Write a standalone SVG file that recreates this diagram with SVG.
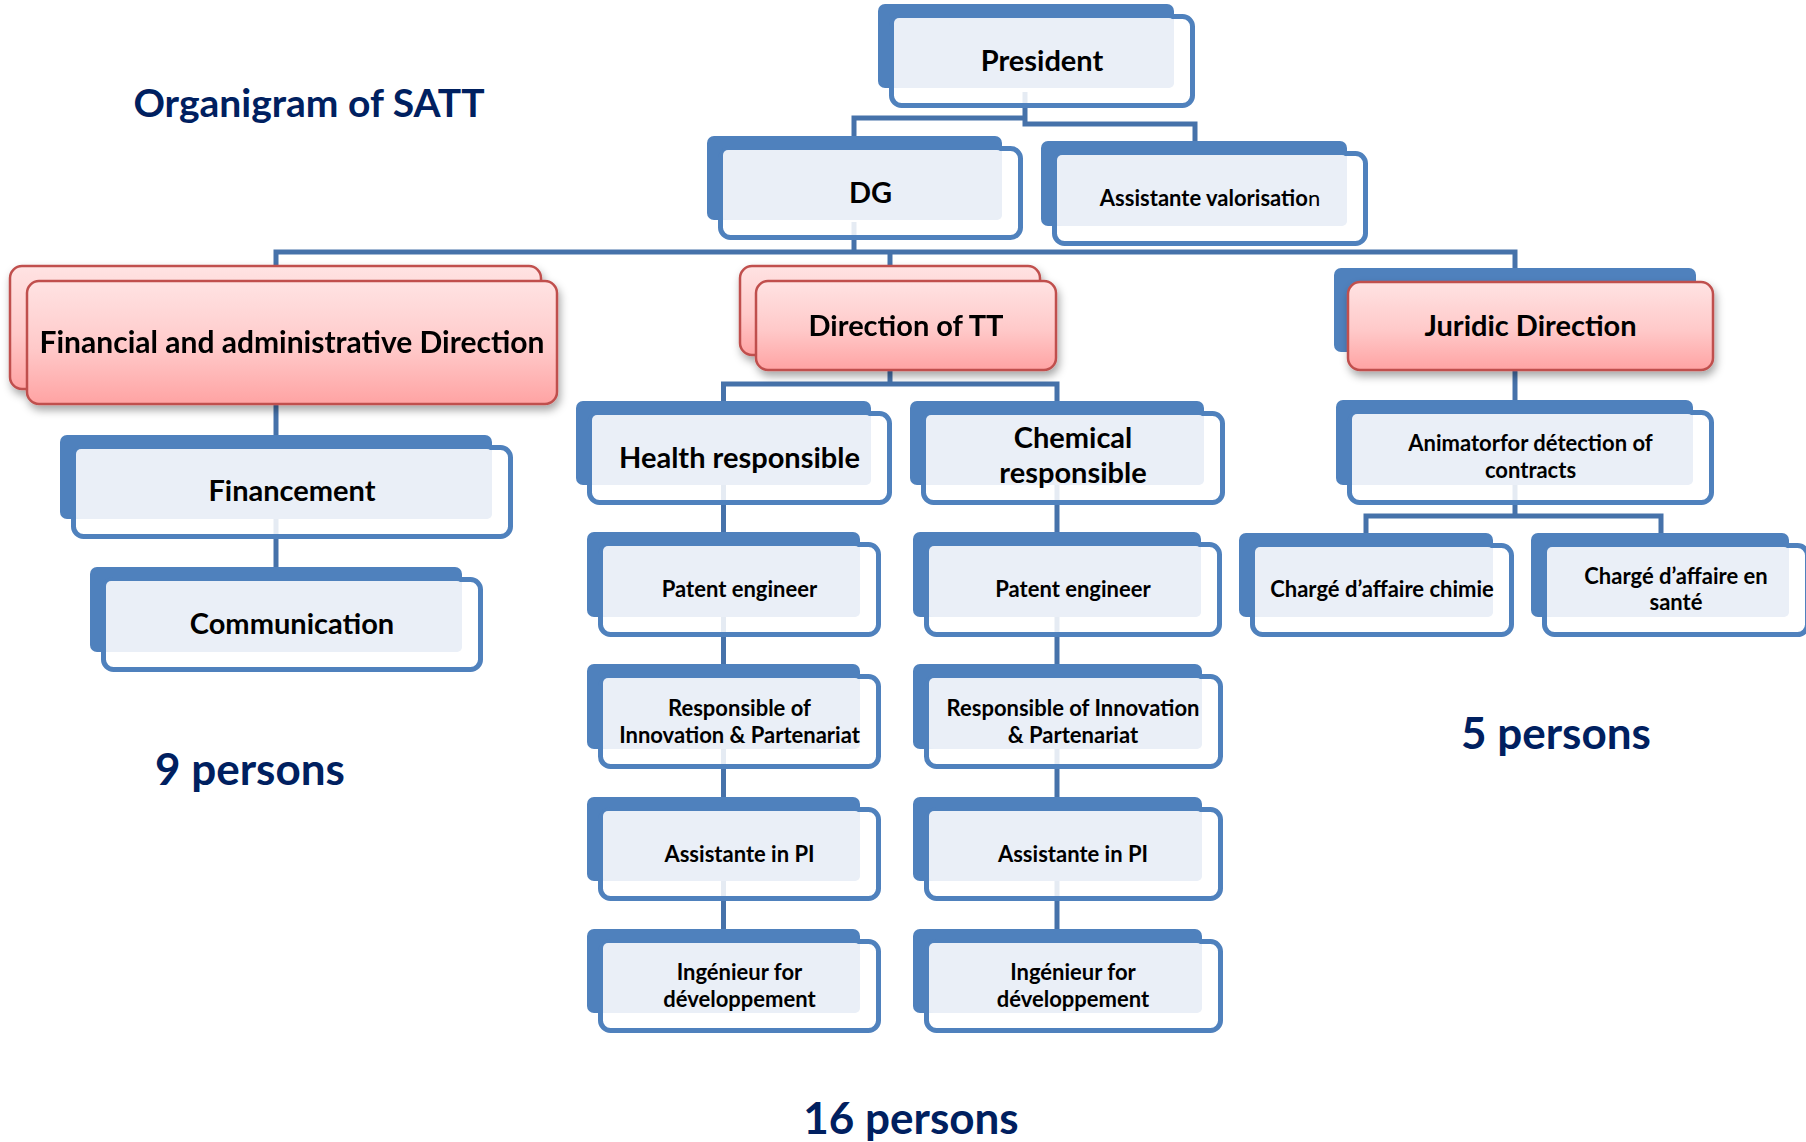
<svg xmlns="http://www.w3.org/2000/svg" width="1806" height="1142" viewBox="0 0 1806 1142">
  <defs>
    <linearGradient id="pinkGrad" x1="0" y1="0" x2="0" y2="1">
      <stop offset="0" stop-color="#FFE3E3"/>
      <stop offset="0.55" stop-color="#FFC9C9"/>
      <stop offset="1" stop-color="#FFA3A3"/>
    </linearGradient>
    <filter id="shadow" x="-10%" y="-20%" width="120%" height="150%">
      <feDropShadow dx="2" dy="5" stdDeviation="4" flood-color="#000" flood-opacity="0.35"/>
    </filter>
    <style>
      .back { fill: #4F81BD; }
      .front { fill: #FFFFFF; fill-opacity: 0.86; stroke: #4F81BD; stroke-width: 5; }
      .light { fill: #EAEFF7; }
      .pink { fill: url(#pinkGrad); stroke: #C0504D; stroke-width: 2.5; }
      .conn { fill: none; stroke: #4672AA; stroke-width: 5; stroke-linejoin: miter; }
      text { font-family: Lato, "Open Sans", "Liberation Sans", sans-serif; font-weight: 700; text-anchor: middle; fill: #000; }
      .big { font-size: 29px; }
      .wide { font-size: 30px; }
      .small { font-size: 22px; }
      .title { font-size: 39px; fill: #002060; }
      .count { font-size: 44px; fill: #002060; }
    </style>
  </defs>

  <rect width="1806" height="1142" fill="#FFFFFF"/>

  <!-- connectors (drawn first, so the boxes sit on top) -->
  <g id="connectors" class="conn">
    <path d="M1025,92 V124 H1195 V141"/>
    <path d="M1025,118 H854 V136"/>
    <path d="M854,222 V252"/>
    <path d="M276,266 V252 H1515 V268"/>
    <path d="M890,252 V266"/>
    <path d="M276,392 V435"/>
    <path d="M276,519 V567"/>
    <path d="M890,357 V384"/>
    <path d="M723.5,401 V384 H1057 V401"/>
    <path d="M723.5,485 V532 M723.5,617 V664 M723.5,749 V797 M723.5,881 V929"/>
    <path d="M1057,485 V532 M1057,617 V664 M1057,749 V797 M1057,881 V929"/>
    <path d="M1515,352 V400"/>
    <path d="M1515,485 V516"/>
    <path d="M1366,533 V516 H1661 V533"/>
  </g>

  <!-- top level -->
  <g id="president">
    <rect class="back" x="878" y="4" width="296" height="84" rx="7"/>
    <rect class="front" x="891.5" y="16.5" width="301" height="89" rx="10"/>
    <rect class="light" x="894" y="18" width="280" height="70" rx="5"/>
    <text class="big" x="1042" y="71">President</text>
  </g>

  <g id="dg">
    <rect class="back" x="707" y="136" width="295" height="84" rx="7"/>
    <rect class="front" x="720.5" y="148.5" width="300" height="89" rx="10"/>
    <rect class="light" x="723" y="150" width="279" height="70" rx="5"/>
    <text class="big" x="870.5" y="203">DG</text>
  </g>

  <g id="assistante-valorisation">
    <rect class="back" x="1041" y="141" width="306" height="85" rx="7"/>
    <rect class="front" x="1054.5" y="153.5" width="311" height="90" rx="10"/>
    <rect class="light" x="1057" y="155" width="290" height="71" rx="5"/>
    <text class="small" x="1210" y="206">Assistante valorisatio<tspan font-weight="400">n</tspan></text>
  </g>

  <!-- directions -->
  <g id="financial-direction" filter="url(#shadow)">
    <rect class="pink" x="10" y="266" width="531" height="123" rx="12"/>
    <rect class="pink" x="27" y="281" width="530" height="123" rx="12"/>
    <text class="wide" x="292" y="353">Financial and administrative Direction</text>
  </g>

  <g id="direction-tt" filter="url(#shadow)">
    <rect class="pink" x="740" y="266" width="300" height="89" rx="12"/>
    <rect class="pink" x="756" y="281" width="300" height="89" rx="12"/>
    <text class="big" x="906" y="336">Direction of TT</text>
  </g>

  <g id="juridic-direction">
    <rect class="back" x="1334" y="268" width="362" height="84" rx="7"/>
    <rect class="pink" x="1348" y="282" width="365" height="88" rx="12" filter="url(#shadow)"/>
    <text class="big" x="1530.5" y="336">Juridic Direction</text>
  </g>

  <!-- financial branch -->
  <g id="financement">
    <rect class="back" x="60" y="435" width="432" height="84" rx="7"/>
    <rect class="front" x="73.5" y="447.5" width="437" height="89" rx="10"/>
    <rect class="light" x="76" y="449" width="416" height="70" rx="5"/>
    <text class="big" x="292" y="501">Financement</text>
  </g>

  <g id="communication">
    <rect class="back" x="90" y="567" width="372" height="85" rx="7"/>
    <rect class="front" x="103.5" y="579.5" width="377" height="90" rx="10"/>
    <rect class="light" x="106" y="581" width="356" height="71" rx="5"/>
    <text class="big" x="292" y="634">Communication</text>
  </g>

  <!-- TT branch, health column -->
  <g id="health-responsible">
    <rect class="back" x="576" y="401" width="295" height="84" rx="7"/>
    <rect class="front" x="589.5" y="413.5" width="300" height="89" rx="10"/>
    <rect class="light" x="592" y="415" width="279" height="70" rx="5"/>
    <text class="big" x="739.5" y="468">Health responsible</text>
  </g>

  <g id="patent-engineer-health">
    <rect class="back" x="587" y="532" width="273" height="85" rx="7"/>
    <rect class="front" x="600.5" y="544.5" width="278" height="90" rx="10"/>
    <rect class="light" x="603" y="546" width="257" height="71" rx="5"/>
    <text class="small" x="739.5" y="597">Patent engineer</text>
  </g>

  <g id="innovation-health">
    <rect class="back" x="587" y="664" width="273" height="85" rx="7"/>
    <rect class="front" x="600.5" y="676.5" width="278" height="90" rx="10"/>
    <rect class="light" x="603" y="678" width="257" height="71" rx="5"/>
    <text class="small" x="739.5" y="716">Responsible of</text>
    <text class="small" x="739.5" y="743">Innovation &amp; Partenariat</text>
  </g>

  <g id="assistante-pi-health">
    <rect class="back" x="587" y="797" width="273" height="84" rx="7"/>
    <rect class="front" x="600.5" y="809.5" width="278" height="89" rx="10"/>
    <rect class="light" x="603" y="811" width="257" height="70" rx="5"/>
    <text class="small" x="739.5" y="862">Assistante in PI</text>
  </g>

  <g id="ingenieur-health">
    <rect class="back" x="587" y="929" width="273" height="84" rx="7"/>
    <rect class="front" x="600.5" y="941.5" width="278" height="89" rx="10"/>
    <rect class="light" x="603" y="943" width="257" height="70" rx="5"/>
    <text class="small" x="739.5" y="980">Ingénieur for</text>
    <text class="small" x="739.5" y="1007">développement</text>
  </g>

  <!-- TT branch, chemical column -->
  <g id="chemical-responsible">
    <rect class="back" x="910" y="401" width="294" height="84" rx="7"/>
    <rect class="front" x="923.5" y="413.5" width="299" height="89" rx="10"/>
    <rect class="light" x="926" y="415" width="278" height="70" rx="5"/>
    <text class="big" x="1073" y="448">Chemical</text>
    <text class="big" x="1073" y="483">responsible</text>
  </g>

  <g id="patent-engineer-chemical">
    <rect class="back" x="913" y="532" width="288" height="85" rx="7"/>
    <rect class="front" x="926.5" y="544.5" width="293" height="90" rx="10"/>
    <rect class="light" x="929" y="546" width="272" height="71" rx="5"/>
    <text class="small" x="1073" y="597">Patent engineer</text>
  </g>

  <g id="innovation-chemical">
    <rect class="back" x="913" y="664" width="289" height="85" rx="7"/>
    <rect class="front" x="926.5" y="676.5" width="294" height="90" rx="10"/>
    <rect class="light" x="929" y="678" width="273" height="71" rx="5"/>
    <text class="small" x="1073" y="716">Responsible of Innovation</text>
    <text class="small" x="1073" y="743">&amp; Partenariat</text>
  </g>

  <g id="assistante-pi-chemical">
    <rect class="back" x="913" y="797" width="289" height="84" rx="7"/>
    <rect class="front" x="926.5" y="809.5" width="294" height="89" rx="10"/>
    <rect class="light" x="929" y="811" width="273" height="70" rx="5"/>
    <text class="small" x="1073" y="862">Assistante in PI</text>
  </g>

  <g id="ingenieur-chemical">
    <rect class="back" x="913" y="929" width="289" height="84" rx="7"/>
    <rect class="front" x="926.5" y="941.5" width="294" height="89" rx="10"/>
    <rect class="light" x="929" y="943" width="273" height="70" rx="5"/>
    <text class="small" x="1073" y="980">Ingénieur for</text>
    <text class="small" x="1073" y="1007">développement</text>
  </g>

  <!-- juridic branch -->
  <g id="animator">
    <rect class="back" x="1336" y="400" width="357" height="85" rx="7"/>
    <rect class="front" x="1349.5" y="412.5" width="362" height="90" rx="10"/>
    <rect class="light" x="1352" y="414" width="341" height="71" rx="5"/>
    <text class="small" x="1530.5" y="451">Animatorfor détection of</text>
    <text class="small" x="1530.5" y="478">contracts</text>
  </g>

  <g id="charge-chimie">
    <rect class="back" x="1239" y="533" width="254" height="84" rx="7"/>
    <rect class="front" x="1252.5" y="545.5" width="259" height="89" rx="10"/>
    <rect class="light" x="1255" y="547" width="238" height="70" rx="5"/>
    <text class="small" x="1382" y="597">Chargé d’affaire chimie</text>
  </g>

  <g id="charge-sante">
    <rect class="back" x="1531" y="533" width="258" height="84" rx="7"/>
    <rect class="front" x="1544.5" y="545.5" width="263" height="89" rx="10"/>
    <rect class="light" x="1547" y="547" width="242" height="70" rx="5"/>
    <text class="small" x="1676" y="584">Chargé d’affaire en</text>
    <text class="small" x="1676" y="610">santé</text>
  </g>

  <!-- headings and head counts -->
  <g id="labels">
    <text class="title" x="309" y="117">Organigram of SATT</text>
    <text class="count" x="250" y="785">9 persons</text>
    <text class="count" x="1556" y="749">5 persons</text>
    <text class="count" x="911" y="1134">16 persons</text>
  </g>
</svg>
